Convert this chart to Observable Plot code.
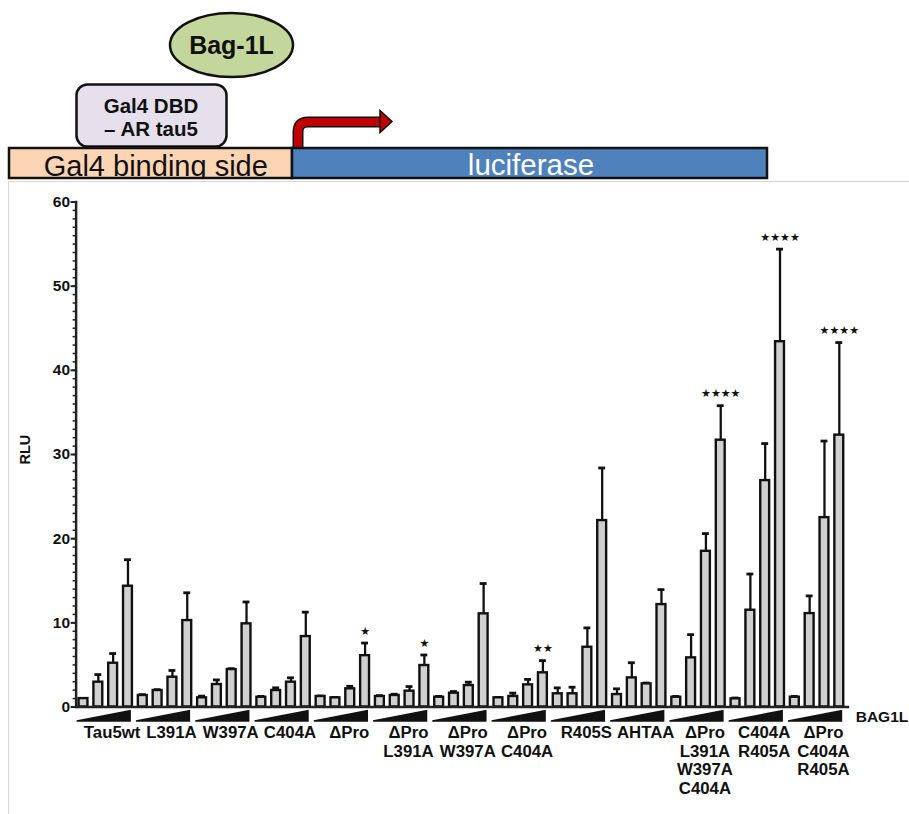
<!DOCTYPE html>
<html><head><meta charset="utf-8">
<script src="https://cdn.jsdelivr.net/npm/d3@7"></script>
<script src="https://cdn.jsdelivr.net/npm/@observablehq/plot@0.6"></script>
<style>
html,body{margin:0;padding:0;background:#fff;}
#wrap{position:relative;width:909px;height:814px;overflow:hidden;font-family:"Liberation Sans",Arial,Helvetica,sans-serif;}
#frame{position:absolute;left:8px;top:181px;width:920px;height:700px;border-left:1.5px solid #d8d8d8;border-top:1.5px solid #d8d8d8;}
#schema{position:absolute;left:0;top:0;}
#chart{position:absolute;left:0;top:182px;}
</style></head><body>
<div id="wrap">
<div id="frame"></div>
<svg id="schema" width="909" height="182" font-family="Liberation Sans, Arial, Helvetica, sans-serif">
  <defs><clipPath id="gal4clip"><rect x="9" y="148" width="283" height="30"/></clipPath></defs>
  <ellipse cx="231.5" cy="45" rx="61.5" ry="32" fill="#c3d69b" stroke="#111" stroke-width="2.5"/>
  <text x="231.5" y="45" dy="0.36em" text-anchor="middle" font-weight="bold" font-size="25" fill="#111">Bag-1L</text>
  <rect x="76.5" y="84.5" width="150" height="62" rx="11" fill="#e5e0ec" stroke="#111" stroke-width="2.5"/>
  <text text-anchor="middle" font-weight="bold" font-size="20.5" fill="#111"><tspan x="151" y="112.5">Gal4 DBD</tspan><tspan x="151" y="135.5">– AR tau5</tspan></text>
  <path d="M298,149 V132 Q298,122 308,122 H383" fill="none" stroke="#111" stroke-width="11"/>
  <path d="M298,149 V132 Q298,122 308,122 H384" fill="none" stroke="#c00000" stroke-width="8"/>
  <polygon points="380,110.5 392,121.5 380,132.5" fill="#c00000" stroke="#111" stroke-width="1.5"/>
  <rect x="9" y="148" width="283" height="30" fill="#fcd5b5"/>
  <text x="155.8" y="175.5" text-anchor="middle" font-size="29" fill="#111" clip-path="url(#gal4clip)">Gal4 binding side</text>
  <rect x="9" y="148" width="283" height="30" fill="none" stroke="#111" stroke-width="2.5"/>
  <rect x="292" y="148" width="475" height="30" fill="#4f81bd" stroke="#111" stroke-width="2.5"/>
  <text x="531" y="175" text-anchor="middle" font-size="29.5" fill="#fff">luciferase</text>
</svg>
<div id="chart"></div>
</div>
<script>
// constructs (group labels, multi-line)
const groups = ["Tau5wt","L391A","W397A","C404A","ΔPro","ΔPro\nL391A","ΔPro\nW397A","ΔPro\nC404A","R405S","AHTAA","ΔPro\nL391A\nW397A\nC404A","C404A\nR405A","ΔPro\nC404A\nR405A"];
// increasing BAG1L doses (4 per construct)
const doses = [1, 2, 3, 4];
// mean RLU per construct, per dose
const means = [
  [1.00, 2.95, 5.20, 14.35],
  [1.37, 1.96, 3.54, 10.27],
  [1.09, 2.67, 4.45, 9.88],
  [1.16, 1.96, 2.95, 8.37],
  [1.25, 1.09, 2.16, 6.10],
  [1.25, 1.37, 1.88, 4.93],
  [1.16, 1.64, 2.55, 11.07],
  [1.09, 1.25, 2.63, 4.06],
  [1.57, 1.57, 7.10, 22.15],
  [1.48, 3.46, 2.75, 12.17],
  [1.16, 5.84, 18.50, 31.70],
  [0.97, 11.50, 26.90, 43.40],
  [1.16, 11.10, 22.50, 32.30]
];
// upper error (SD) per construct, per dose
const errors = [
  [0.00, 0.90, 1.15, 3.15],
  [0.10, 0.10, 0.80, 3.30],
  [0.20, 0.55, 0.10, 2.60],
  [0.10, 0.32, 0.52, 2.90],
  [0.05, 0.05, 0.30, 1.50],
  [0.10, 0.15, 0.55, 1.25],
  [0.10, 0.20, 0.40, 3.60],
  [0.05, 0.40, 0.65, 1.45],
  [0.70, 0.78, 2.30, 6.25],
  [0.68, 1.80, 0.10, 1.78],
  [0.10, 2.76, 2.10, 4.10],
  [0.10, 4.30, 4.40, 11.00],
  [0.10, 2.10, 9.10, 11.00]
];
// significance marks on the highest dose
const stars = ["", "", "", "", "★", "★", "", "★★", "", "", "★★★★", "★★★★", "★★★★"];
const yMajor = d3.range(0, 61, 10);
const yMinor = d3.range(0, 61, 1);

const rows = [];
groups.forEach((g, gi) => doses.forEach((dose, li) => {
  rows.push({id: gi + "-" + li, group: g, gi, li, mean: means[gi][li], err: errors[gi][li], top: means[gi][li] + errors[gi][li], star: li === 3 ? stars[gi] : ""});
}));
const ids = rows.map(d => d.id);
const P = 0.4;
const FONT = "Liberation Sans, Arial, Helvetica, sans-serif";

function wedges(index, scales) {
  const sx = scales.x, sy = scales.y;
  const bw = sx.bandwidth(), step = sx.step();
  const y0 = sy(0);
  const g = d3.create("svg:g").attr("fill", "#111");
  groups.forEach((name, gi) => {
    const L = sx(gi + "-0") - step * P / 2 + 1;
    const R = sx(gi + "-3") + bw + step * P / 2 - 4;
    g.append("path").attr("d", `M${L},${y0 + 13.7}L${R},${y0 + 3.3}L${R},${y0 + 15.2}L${L},${y0 + 15.2}Z`);
  });
  return g.node();
}

const chart = Plot.plot({
  width: 909, height: 632,
  marginTop: 19.5, marginBottom: 107.5, marginLeft: 75.6, marginRight: 62.8,
  style: {fontFamily: FONT, background: "transparent", overflow: "visible", color: "#111"},
  x: {type: "band", domain: ids, paddingInner: P, paddingOuter: P / 2, axis: null},
  y: {domain: [0, 60], axis: null},
  marks: [
    Plot.axisY(yMinor, {tickSize: 3, tickFormat: () => "", strokeWidth: 1.5, label: null, stroke: "#222"}),
    Plot.axisY(yMajor, {tickSize: 5, tickPadding: 1, fontSize: 15.5, fontWeight: "bold", strokeWidth: 2, label: null, stroke: "#222", fill: "#111"}),
    Plot.text(["RLU"], {frameAnchor: "left", dx: -51, dy: 10, rotate: -90, fontWeight: "bold", fontSize: 14.5, fill: "#111"}),
    Plot.frame({anchor: "left", strokeWidth: 2.5, stroke: "#222"}),
    Plot.ruleX(rows.filter(d => d.err > 0), {x: "id", y1: "mean", y2: "top", strokeWidth: 2.3, stroke: "#111"}),
    Plot.tickY(rows.filter(d => d.err > 0), {x: "id", y: "top", strokeWidth: 2.8, insetLeft: 1, insetRight: 1, stroke: "#111"}),
    Plot.barY(rows, {x: "id", y: "mean", fill: "#d0d0d0", stroke: "#111", strokeWidth: 2.4}),
    Plot.ruleY([0], {strokeWidth: 2.5, insetRight: -3, stroke: "#222"}),
    Plot.text(rows.filter(d => d.star), {x: "id", y: "top", text: "star", dy: -12, fontFamily: "DejaVu Sans", fontSize: 11, fill: "#111", lineAnchor: "middle"}),
    wedges,
    Plot.text(rows.filter(d => d.li === 2), {x: "id", frameAnchor: "bottom", text: "group", lineAnchor: "top", dy: 17.5, dx: -1, fontSize: 16.8, fontWeight: "bold", lineHeight: 1.12, fill: "#111"}),
    Plot.text(["BAG1L"], {frameAnchor: "bottom-right", textAnchor: "start", lineAnchor: "middle", dx: 9, dy: 10.5, fontSize: 15.5, fontWeight: "bold", fill: "#111"})
  ]
});
document.getElementById("chart").appendChild(chart);
</script>
</body></html>
